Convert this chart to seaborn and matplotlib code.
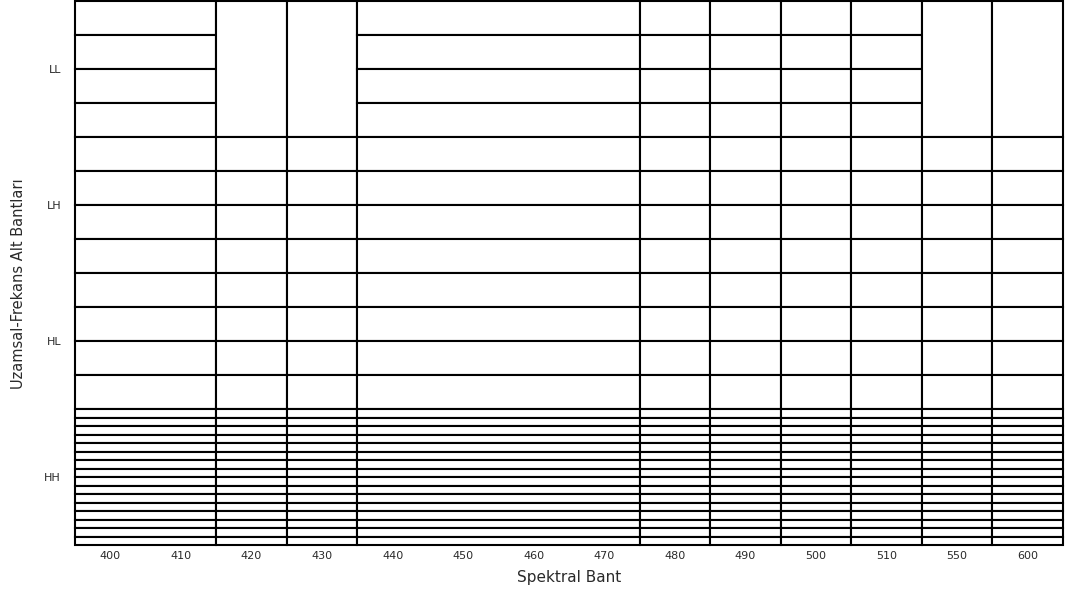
import matplotlib
matplotlib.use("Agg")
import matplotlib.pyplot as plt
import seaborn as sns
import numpy as np

# Spectral bands along the x axis
bands = [400, 410, 420, 430, 440, 450, 460, 470, 480, 490, 500, 510, 550, 600]

# Band blocks: how many consecutive bands each block spans
block_spans = [2, 1, 1, 4, 1, 1, 1, 1, 1, 1]

# Wavelet sub-bands (top to bottom) and number of partitions per block
subbands = ["LL", "LH", "HL", "HH"]
ll_splits = [4, 1, 1, 4, 4, 4, 4, 4, 1, 1]
lh_splits = [4, 4, 4, 4, 4, 4, 4, 4, 4, 4]
hl_splits = [4, 4, 4, 4, 4, 4, 4, 4, 4, 4]
hh_splits = [16, 16, 16, 16, 16, 16, 16, 16, 16, 16]
splits = [ll_splits, lh_splits, hl_splits, hh_splits]

sns.set_theme(style="white")
plt.rcParams["font.family"] = ["DejaVu Sans"]

fig = plt.figure(figsize=(10.66, 5.96), dpi=100)
ax = fig.add_axes([75 / 1066, 1 - 545 / 596, 988 / 1066, 544 / 596])

block_starts = np.concatenate([[0], np.cumsum(block_spans)[:-1]]) - 0.5

for row, row_splits in enumerate(splits):
    for start, span, n in zip(block_starts, block_spans, row_splits):
        h = 1.0 / n
        bottoms = row + np.arange(n) * h
        ax.bar(np.full(n, start), np.full(n, h), width=span, bottom=bottoms,
               align="edge", color="white", edgecolor="black",
               linewidth=1.5, clip_on=False)

ax.set_xlim(-0.5, len(bands) - 0.5)
ax.set_ylim(len(subbands), 0)

ax.set_xticks(range(len(bands)))
ax.set_xticklabels([str(b) for b in bands], fontsize=8, color="#2a2a2a")
ax.set_yticks(np.arange(len(subbands)) + 0.5)
ax.set_yticklabels(subbands, fontsize=8, color="#2a2a2a")
ax.tick_params(axis="x", length=0, pad=4)
ax.tick_params(axis="y", length=0, pad=10)

for s in ax.spines.values():
    s.set_visible(False)

ax.set_xlabel("Spektral Bant", fontsize=11, color="#2a2a2a", labelpad=7)
ax.set_ylabel("Uzamsal-Frekans Alt Bantları", fontsize=10.5, color="#2a2a2a")
ax.yaxis.set_label_coords(-0.05, 0.48)

fig.savefig("out.png", dpi=100)
